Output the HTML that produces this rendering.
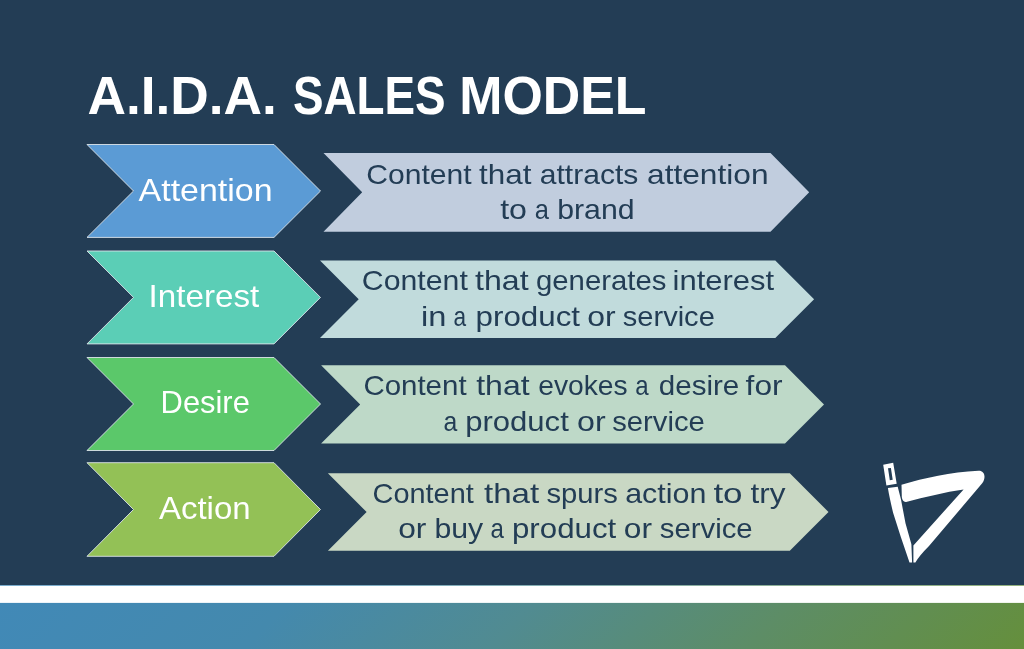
<!DOCTYPE html>
<html><head><meta charset="utf-8">
<style>
html,body{margin:0;padding:0;width:1024px;height:649px;overflow:hidden;background:#233d55;}
svg{display:block;position:absolute;left:0;top:0;will-change:transform;}
</style></head>
<body>
<svg width="1024" height="649" viewBox="0 0 1024 649">
  <defs>
    <linearGradient id="bar" gradientUnits="userSpaceOnUse" x1="0" y1="603" x2="535" y2="1138">
      <stop offset="0" stop-color="rgb(65,137,183)"/>
      <stop offset="0.27" stop-color="rgb(68,137,173)"/>
      <stop offset="0.5" stop-color="rgb(81,139,145)"/>
      <stop offset="0.74" stop-color="rgb(93,141,102)"/>
      <stop offset="1" stop-color="rgb(101,143,60)"/>
    </linearGradient>
  </defs>
  <rect x="0" y="0" width="1024" height="585" fill="#233d55"/>
  <rect x="0" y="585" width="1024" height="64" fill="url(#bar)"/>
  <rect x="0" y="585.7" width="1024" height="17.2" fill="#ffffff"/>

  <!-- left chevrons -->
  <g stroke="#dde4ea" stroke-width="0.9" stroke-linejoin="miter">
    <polygon fill="#5b9bd5" points="87,144.5 274,144.5 320.5,191 274,237.4 87,237.4 133.5,191"/>
    <polygon fill="#5bceb6" points="87,251 274,251 320.5,297.4 274,343.9 87,343.9 133.5,297.4"/>
    <polygon fill="#5bc86a" points="87,357.5 274,357.5 320.5,404 274,450.5 87,450.5 133.5,404"/>
    <polygon fill="#93c156" points="87,462.7 274,462.7 320.5,509.5 274,556.3 87,556.3 133.5,509.5"/>
  </g>
  <!-- right chevrons -->
  <polygon fill="#c1cdde" points="323.5,153 770.5,153 809.2,192.35 770.5,231.7 323.5,231.7 362.2,192.35"/>
  <polygon fill="#c1dbdc" points="320,260.5 775.3,260.5 814.1,299.2 775.3,337.9 320,337.9 358.7,299.2"/>
  <polygon fill="#bed9c8" points="321.1,365.3 785,365.3 824,404.4 785,443.5 321.1,443.5 360.2,404.4"/>
  <polygon fill="#c9d8c4" points="327.9,473.3 789.8,473.3 828.5,512 789.8,550.7 327.9,550.7 366.6,512"/>

  <g font-family="Liberation Sans, sans-serif">
    <text x="87.40" y="113.80" font-size="54" font-weight="bold" fill="#ffffff" textLength="189.50" lengthAdjust="spacingAndGlyphs">A.I.D.A.</text>
    <text x="292.90" y="113.80" font-size="54" font-weight="bold" fill="#ffffff" textLength="152.80" lengthAdjust="spacingAndGlyphs">SALES</text>
    <text x="459.20" y="113.80" font-size="54" font-weight="bold" fill="#ffffff" textLength="187.40" lengthAdjust="spacingAndGlyphs">MODEL</text>
    <text x="138.60" y="200.80" font-size="32" fill="#ffffff" textLength="134.00" lengthAdjust="spacingAndGlyphs">Attention</text>
    <text x="148.60" y="306.50" font-size="32" fill="#ffffff" textLength="110.60" lengthAdjust="spacingAndGlyphs">Interest</text>
    <text x="160.60" y="412.50" font-size="32" fill="#ffffff" textLength="89.20" lengthAdjust="spacingAndGlyphs">Desire</text>
    <text x="159.00" y="518.80" font-size="32" fill="#ffffff" textLength="91.60" lengthAdjust="spacingAndGlyphs">Action</text>
    <text x="366.20" y="183.90" font-size="28.5" fill="#233d55" textLength="105.40" lengthAdjust="spacingAndGlyphs">Content</text>
    <text x="479.00" y="183.90" font-size="28.5" fill="#233d55" textLength="52.40" lengthAdjust="spacingAndGlyphs">that</text>
    <text x="539.80" y="183.90" font-size="28.5" fill="#233d55" textLength="98.60" lengthAdjust="spacingAndGlyphs">attracts</text>
    <text x="647.00" y="183.90" font-size="28.5" fill="#233d55" textLength="121.60" lengthAdjust="spacingAndGlyphs">attention</text>
    <text x="500.20" y="218.50" font-size="28.5" fill="#233d55" textLength="26.80" lengthAdjust="spacingAndGlyphs">to</text>
    <text x="534.80" y="218.50" font-size="28.5" fill="#233d55" textLength="14.20" lengthAdjust="spacingAndGlyphs">a</text>
    <text x="557.20" y="218.50" font-size="28.5" fill="#233d55" textLength="77.40" lengthAdjust="spacingAndGlyphs">brand</text>
    <text x="361.80" y="289.80" font-size="28.5" fill="#233d55" textLength="106.00" lengthAdjust="spacingAndGlyphs">Content</text>
    <text x="475.00" y="289.80" font-size="28.5" fill="#233d55" textLength="53.60" lengthAdjust="spacingAndGlyphs">that</text>
    <text x="536.00" y="289.80" font-size="28.5" fill="#233d55" textLength="130.40" lengthAdjust="spacingAndGlyphs">generates</text>
    <text x="672.60" y="289.80" font-size="28.5" fill="#233d55" textLength="101.60" lengthAdjust="spacingAndGlyphs">interest</text>
    <text x="421.00" y="326.00" font-size="28.5" fill="#233d55" textLength="25.40" lengthAdjust="spacingAndGlyphs">in</text>
    <text x="453.60" y="326.00" font-size="28.5" fill="#233d55" textLength="12.60" lengthAdjust="spacingAndGlyphs">a</text>
    <text x="475.60" y="326.00" font-size="28.5" fill="#233d55" textLength="104.40" lengthAdjust="spacingAndGlyphs">product</text>
    <text x="587.20" y="326.00" font-size="28.5" fill="#233d55" textLength="28.40" lengthAdjust="spacingAndGlyphs">or</text>
    <text x="622.80" y="326.00" font-size="28.5" fill="#233d55" textLength="92.00" lengthAdjust="spacingAndGlyphs">service</text>
    <text x="363.40" y="395.20" font-size="28.5" fill="#233d55" textLength="103.20" lengthAdjust="spacingAndGlyphs">Content</text>
    <text x="476.20" y="395.20" font-size="28.5" fill="#233d55" textLength="53.40" lengthAdjust="spacingAndGlyphs">that</text>
    <text x="538.20" y="395.20" font-size="28.5" fill="#233d55" textLength="89.40" lengthAdjust="spacingAndGlyphs">evokes</text>
    <text x="635.20" y="395.20" font-size="28.5" fill="#233d55" textLength="13.40" lengthAdjust="spacingAndGlyphs">a</text>
    <text x="658.80" y="395.20" font-size="28.5" fill="#233d55" textLength="80.40" lengthAdjust="spacingAndGlyphs">desire</text>
    <text x="745.60" y="395.20" font-size="28.5" fill="#233d55" textLength="37.00" lengthAdjust="spacingAndGlyphs">for</text>
    <text x="443.40" y="431.00" font-size="28.5" fill="#233d55" textLength="13.80" lengthAdjust="spacingAndGlyphs">a</text>
    <text x="465.20" y="431.00" font-size="28.5" fill="#233d55" textLength="103.60" lengthAdjust="spacingAndGlyphs">product</text>
    <text x="577.00" y="431.00" font-size="28.5" fill="#233d55" textLength="28.60" lengthAdjust="spacingAndGlyphs">or</text>
    <text x="612.20" y="431.00" font-size="28.5" fill="#233d55" textLength="92.60" lengthAdjust="spacingAndGlyphs">service</text>
    <text x="372.60" y="502.70" font-size="28.5" fill="#233d55" textLength="101.20" lengthAdjust="spacingAndGlyphs">Content</text>
    <text x="484.00" y="502.70" font-size="28.5" fill="#233d55" textLength="55.20" lengthAdjust="spacingAndGlyphs">that</text>
    <text x="546.40" y="502.70" font-size="28.5" fill="#233d55" textLength="71.40" lengthAdjust="spacingAndGlyphs">spurs</text>
    <text x="625.20" y="502.70" font-size="28.5" fill="#233d55" textLength="81.20" lengthAdjust="spacingAndGlyphs">action</text>
    <text x="713.40" y="502.70" font-size="28.5" fill="#233d55" textLength="29.20" lengthAdjust="spacingAndGlyphs">to</text>
    <text x="750.60" y="502.70" font-size="28.5" fill="#233d55" textLength="35.00" lengthAdjust="spacingAndGlyphs">try</text>
    <text x="398.20" y="537.70" font-size="28.5" fill="#233d55" textLength="28.20" lengthAdjust="spacingAndGlyphs">or</text>
    <text x="434.40" y="537.70" font-size="28.5" fill="#233d55" textLength="48.80" lengthAdjust="spacingAndGlyphs">buy</text>
    <text x="490.60" y="537.70" font-size="28.5" fill="#233d55" textLength="13.40" lengthAdjust="spacingAndGlyphs">a</text>
    <text x="512.00" y="537.70" font-size="28.5" fill="#233d55" textLength="104.20" lengthAdjust="spacingAndGlyphs">product</text>
    <text x="623.80" y="537.70" font-size="28.5" fill="#233d55" textLength="28.20" lengthAdjust="spacingAndGlyphs">or</text>
    <text x="659.80" y="537.70" font-size="28.5" fill="#233d55" textLength="92.80" lengthAdjust="spacingAndGlyphs">service</text>
  </g>

  <!-- logo -->
  <g fill="#ffffff">
    <path d="M887.9,488.1 L897.7,486.8 L901,499.6 L905.5,523.2 L911.4,544.2 L912.1,562.5 L909.5,562.5 L901,537.6 L893.1,512.7 Q889.5,498 887.9,488.1 Z"/>
    <path d="M901.5,484.7 C925,478 950,472 978.5,470.8 C984.5,470.6 986.5,477 982.2,483.3 L929,546 Q919,556 915.4,562.5 L913.4,562.5 L913.4,545.5 L963.6,489.4 C945,492 925,497 906.1,501.9 C903.5,502.2 902.2,500 901.8,497 Z"/>
    <path fill-rule="evenodd" d="M883.2,464.8 L893.2,462.7 L896.7,483.7 L886.4,485.5 Z M888,468.3 L890.9,467.9 L892.7,479.7 L889.8,480.2 Z"/>
  </g>
</svg>
</body></html>
